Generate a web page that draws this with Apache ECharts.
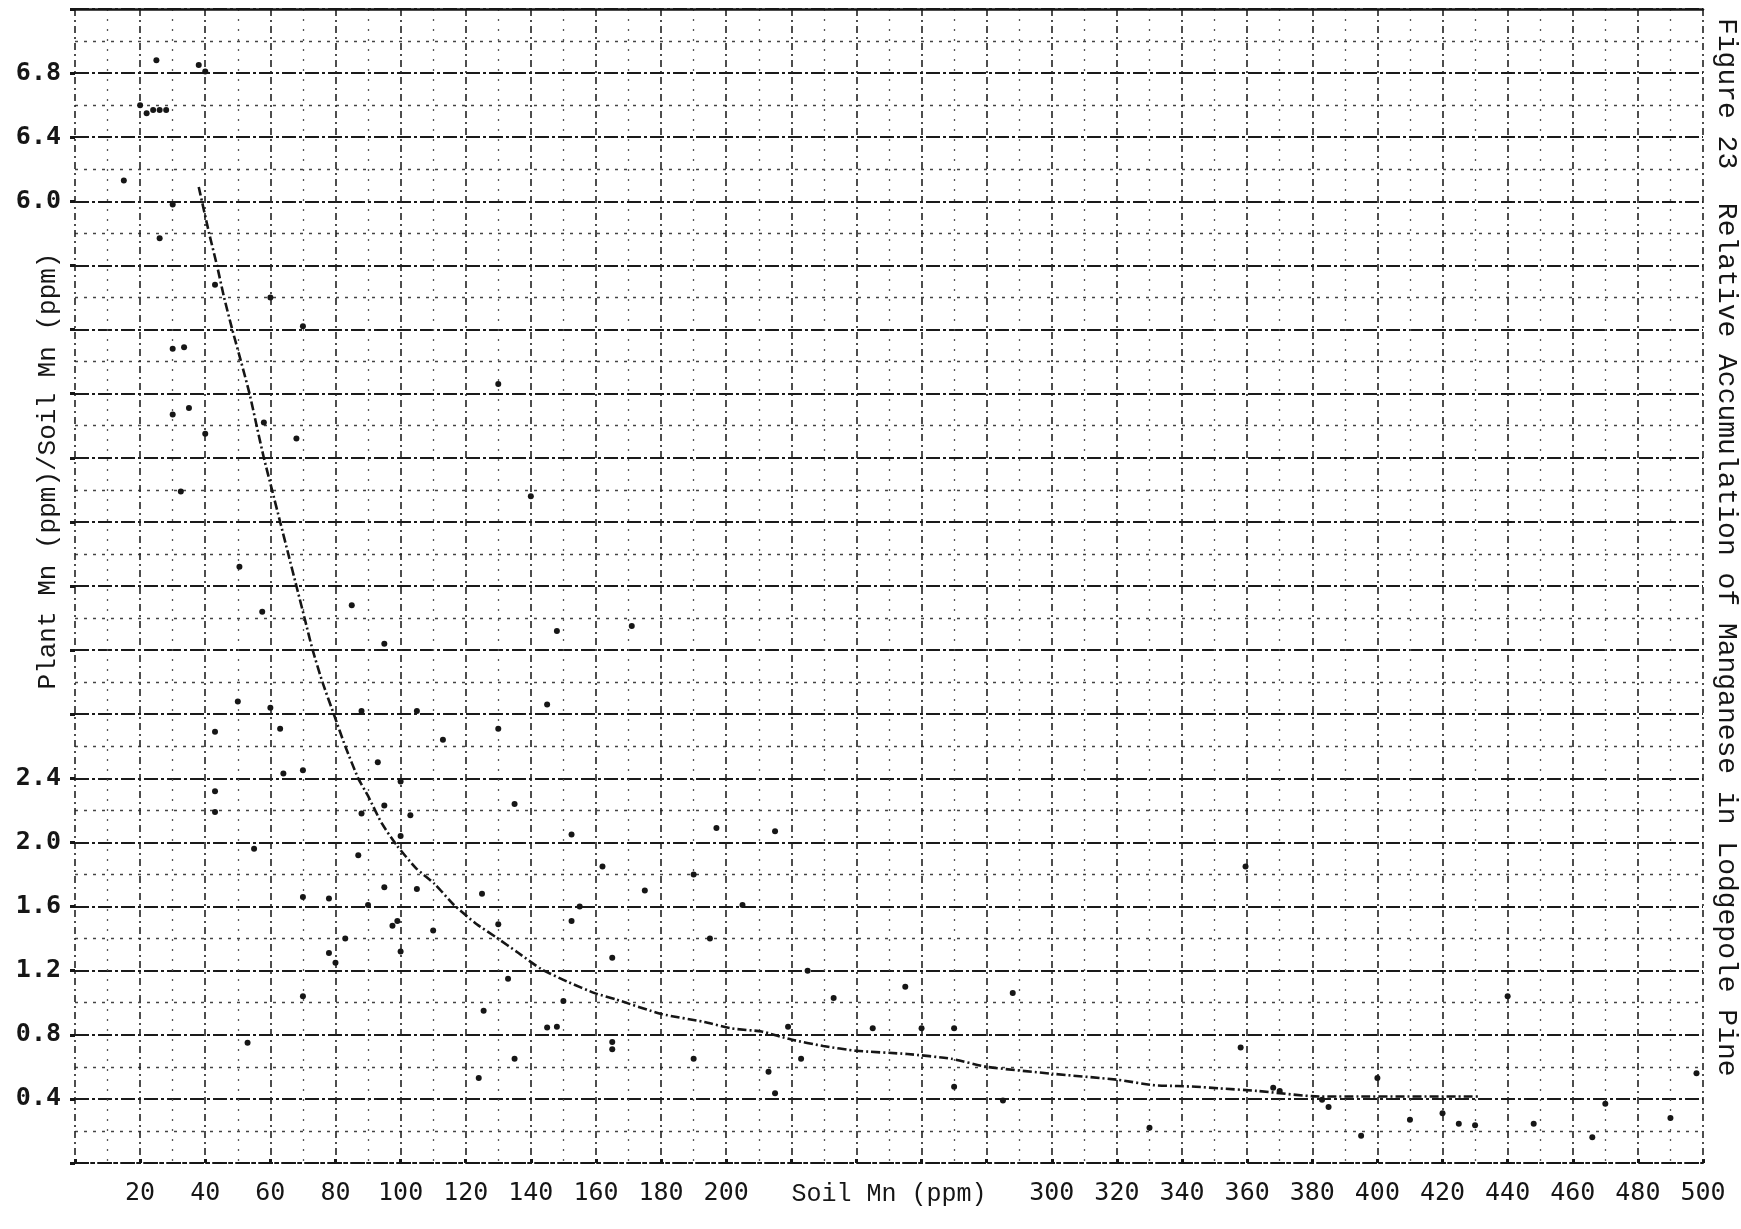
<!DOCTYPE html>
<html>
<head>
<meta charset="utf-8">
<title>Figure 23</title>
<script src="https://cdn.jsdelivr.net/npm/echarts@6/dist/echarts.min.js"></script>
<style>
html, body { margin: 0; padding: 0; background: #fff; }
#main { width: 1741px; height: 1229px; }
</style>
</head>
<body>
<div id="main"></div>
<script>
// each dot: soil Mn (ppm) and plant Mn / soil Mn
const soilMn = [
  25, 38, 40, 20, 22, 24, 26, 28, 15, 30, 26, 43, 60, 70, 30, 33.5, 130, 30, 35,
  40, 58, 68, 32.5, 140, 50.5, 85, 57.5, 148, 95, 50, 60, 88, 105, 145, 43, 63, 130, 113, 93,
  64, 70, 43, 100, 135, 88, 95, 103, 171,
  152.5, 100, 55, 87, 95, 105, 125, 70, 78, 90, 155, 99, 97.5, 130, 152.5, 110, 83, 100, 78, 80,
  133, 70, 150, 125.5, 145, 148, 53, 135, 124, 43,
  197, 215, 162, 190, 175, 205, 195, 165, 225, 255, 288, 233, 219, 245, 260, 270, 165, 165,
  190, 223, 213, 215, 270, 285, 330,
  359.5, 440, 358, 368, 370, 383, 385, 400, 470, 498, 410, 420, 425, 430, 448, 490, 395, 466
];
const ratio = [
  6.88, 6.85, 6.81, 6.60, 6.55, 6.57, 6.57, 6.57, 6.13, 5.98, 5.77, 5.48, 5.40, 5.22, 5.08, 5.09, 4.86, 4.67, 4.71,
  4.55, 4.62, 4.52, 4.19, 4.16, 3.72, 3.48, 3.44, 3.32, 3.24, 2.88, 2.84, 2.82, 2.82, 2.86, 2.69, 2.71, 2.71, 2.64, 2.50,
  2.43, 2.45, 2.32, 2.38, 2.24, 2.18, 2.23, 2.17, 3.35,
  2.05, 2.04, 1.96, 1.92, 1.72, 1.71, 1.68, 1.66, 1.65, 1.61, 1.60, 1.51, 1.48, 1.49, 1.51, 1.45, 1.40, 1.32, 1.31, 1.25,
  1.15, 1.04, 1.01, 0.95, 0.845, 0.85, 0.75, 0.65, 0.53, 2.19,
  2.09, 2.07, 1.85, 1.80, 1.70, 1.61, 1.40, 1.28, 1.20, 1.10, 1.06, 1.03, 0.85, 0.84, 0.84, 0.84, 0.755, 0.71,
  0.65, 0.65, 0.57, 0.435, 0.475, 0.39, 0.22,
  1.85, 1.04, 0.72, 0.47, 0.45, 0.395, 0.35, 0.53, 0.37, 0.56, 0.27, 0.31, 0.245, 0.235, 0.245, 0.28, 0.17, 0.16
];

// the hand drawn curve, read point by point
const curveSoil = [38, 41.2, 43.6, 45.8, 48.3, 51, 53.6, 56, 58, 60.5, 63, 65.5, 68, 70.5, 73, 76, 79.5, 83, 87, 90,
  94.2, 98.9, 104.7, 110.5, 116.4, 123.4, 129.2, 136.2, 143.2, 151.4, 159.6, 166.2, 180.1, 193.3, 201.5,
  210.9, 220, 229.8, 240, 255.6, 269.2, 280, 300, 320, 331, 338.6, 344.3, 351.2, 363, 382, 431];
const curveRatio = [6.09, 5.80, 5.60, 5.40, 5.20, 5.00, 4.80, 4.58, 4.40, 4.20, 4.00, 3.80, 3.60, 3.40, 3.20, 3.00,
  2.80, 2.60, 2.40, 2.29,
  2.12, 1.98, 1.84, 1.74, 1.61, 1.49, 1.41, 1.31, 1.21, 1.13, 1.06, 1.02, 0.93, 0.88, 0.84,
  0.82, 0.77, 0.73, 0.70, 0.68, 0.65, 0.60, 0.557, 0.52, 0.486, 0.48, 0.476, 0.466, 0.45, 0.415, 0.415];

// printed tick labels (the rest are hidden under the axis titles)
const yLabels = ['0.4', '0.8', '1.2', '1.6', '2.0', '2.4', '6.0', '6.4', '6.8'];
const xLabels = ['20', '40', '60', '80', '100', '120', '140', '160', '180', '200',
  '300', '320', '340', '360', '380', '400', '420', '440', '460', '480', '500'];

const ink = '#161616';
const numFont = 'DejaVu Sans Mono';
const typeFont = 'Liberation Mono';

let chart = echarts.init(document.getElementById('main'));
chart.setOption({
  backgroundColor: '#ffffff',
  animation: false,
  grid: { left: 75, right: 38, top: 9, bottom: 66 },
  xAxis: [
    {
      type: 'value',
      min: 0,
      max: 500,
      interval: 20,
      name: 'Soil Mn (ppm)',
      nameLocation: 'middle',
      nameGap: 19,
      nameMoveOverlap: false,
      nameTextStyle: { fontFamily: typeFont, fontSize: 25, color: ink, verticalAlign: 'top' },
      axisLine: { show: true, lineStyle: { color: ink, width: 2, type: [12, 4, 3, 4] } },
      axisTick: { show: true, inside: true, length: 4, lineStyle: { color: ink, width: 3 } },
      axisLabel: {
        margin: 18,
        fontFamily: numFont,
        fontSize: 25,
        color: ink,
        formatter: function (v) {
          return xLabels.indexOf(String(v)) >= 0 ? String(v) : '';
        }
      },
      splitLine: { show: true, lineStyle: { color: '#222', width: 1.6, type: [7, 4, 2, 4] } },
      minorTick: { show: false, splitNumber: 2 },
      minorSplitLine: { show: true, lineStyle: { color: '#555', width: 1.3, type: [2, 8] } }
    },
    {
      // heavy ruled line along the top of the sheet
      type: 'value',
      position: 'top',
      min: 0,
      max: 500,
      axisLine: { show: true, lineStyle: { color: ink, width: 2.5 } },
      axisTick: { show: false },
      axisLabel: { show: false },
      splitLine: { show: false }
    }
  ],
  yAxis: {
    type: 'value',
    min: 0,
    max: 7.2,
    interval: 0.4,
    axisLine: { show: false },
    axisTick: { show: true, length: 5, lineStyle: { color: ink, width: 3 } },
    axisLabel: {
      margin: 14,
      fontFamily: numFont,
      fontSize: 25,
      fontWeight: 'bold',
      color: ink,
      formatter: function (v) {
        let s = v.toFixed(1);
        return yLabels.indexOf(s) >= 0 ? s : '';
      }
    },
    splitLine: { show: true, lineStyle: { color: '#1a1a1a', width: 2, type: [14, 3, 3, 3] } },
    minorTick: { show: false, splitNumber: 2 },
    minorSplitLine: { show: true, lineStyle: { color: '#444', width: 1.4, type: [3, 6] } }
  },
  graphic: [
    {
      type: 'text',
      x: 48,
      y: 471,
      rotation: Math.PI / 2,
      style: {
        text: 'Plant Mn (ppm)/Soil Mn (ppm)',
        fontFamily: typeFont,
        fontSize: 26,
        fill: ink,
        align: 'center',
        verticalAlign: 'middle'
      }
    },
    {
      type: 'text',
      x: 1726,
      y: 18,
      rotation: -Math.PI / 2,
      style: {
        text: 'Figure 23  Relative Accumulation of Manganese in Lodgepole Pine',
        fontFamily: typeFont,
        fontSize: 28,
        fill: ink,
        align: 'left',
        verticalAlign: 'middle'
      }
    }
  ],
  series: [
    {
      name: 'samples',
      type: 'scatter',
      symbol: 'circle',
      symbolSize: 6,
      itemStyle: { color: ink, opacity: 1 },
      data: soilMn.map(function (x, i) { return [x, ratio[i]]; }),
      z: 4
    },
    {
      name: 'curve',
      type: 'line',
      smooth: 0.2,
      showSymbol: false,
      lineStyle: { color: ink, width: 2.6, type: [9, 3, 2, 3] },
      data: curveSoil.map(function (x, i) { return [x, curveRatio[i]]; }),
      z: 3
    }
  ]
});
</script>
</body>
</html>
